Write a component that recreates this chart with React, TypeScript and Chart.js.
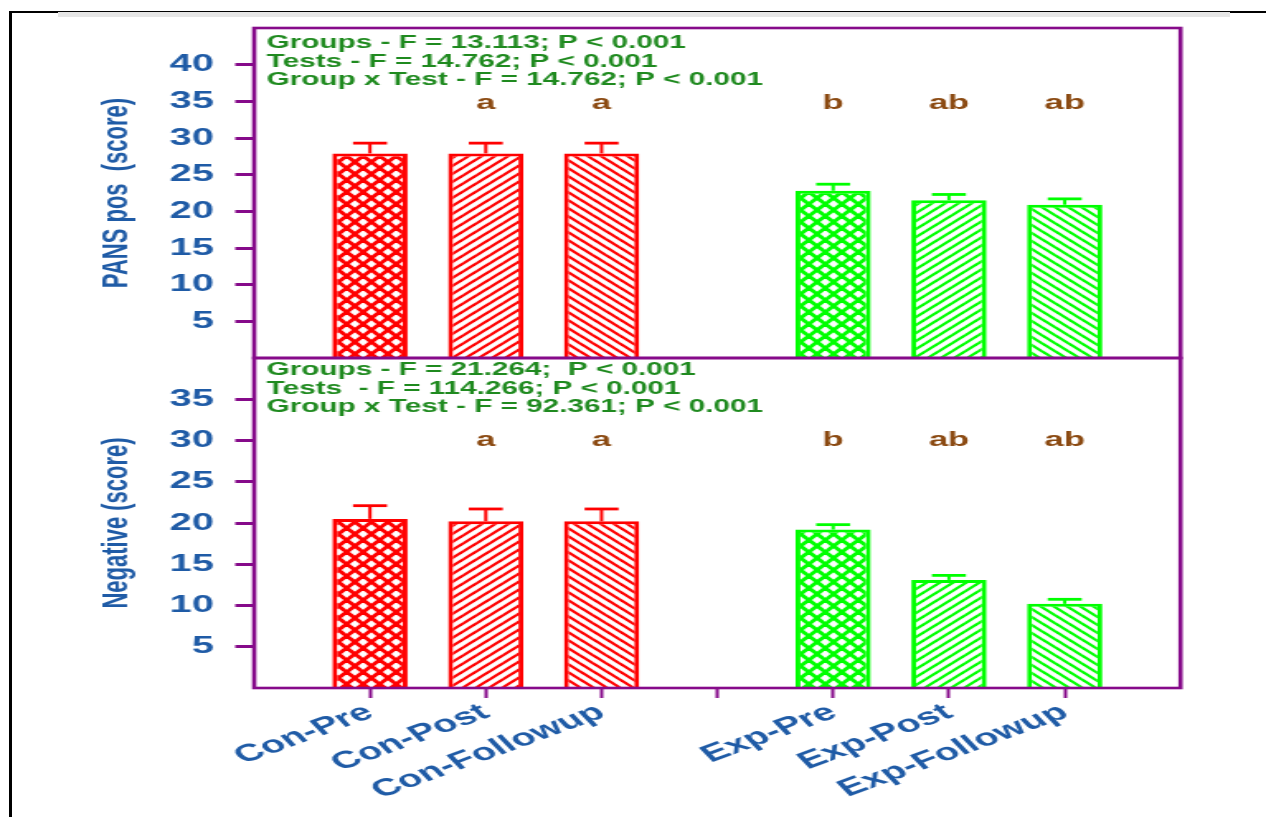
import React, { useEffect, useRef } from 'react';
import { Chart, registerables } from 'chart.js';

Chart.register(...registerables);

// ---------- data ----------
const categories = ['', 'Con-Pre', 'Con-Post', 'Con-Followup', '', 'Exp-Pre', 'Exp-Post', 'Exp-Followup', ''];
const groupOf = ['', 'con', 'con', 'con', '', 'exp', 'exp', 'exp', ''];
const hatchOf = ['', 'cross', 'fwd', 'back', '', 'cross', 'fwd', 'back', ''];

const pansPos = [null, 27.9, 27.9, 27.9, null, 22.8, 21.5, 20.9, null];
const pansPosErr = [null, 1.4, 1.4, 1.4, null, 0.9, 0.8, 0.8, null];
const negative = [null, 20.5, 20.2, 20.2, null, 19.2, 13.1, 10.2, null];
const negativeErr = [null, 1.6, 1.5, 1.5, null, 0.6, 0.55, 0.55, null];

const pansPosLetters = ['', '', 'a', 'a', '', 'b', 'ab', 'ab', ''];
const negativeLetters = ['', '', 'a', 'a', '', 'b', 'ab', 'ab', ''];
const pansPosLetterLevel = 34.7;
const negativeLetterLevel = 30;

const pansPosStats = [
  'Groups - F = 13.113; P < 0.001',
  'Tests - F = 14.762; P < 0.001',
  'Group x Test - F = 14.762; P < 0.001',
];
const negativeStats = [
  'Groups - F = 21.264;  P < 0.001',
  'Tests  - F = 114.266; P < 0.001',
  'Group x Test - F = 92.361; P < 0.001',
];

const pansPosMax = 45;
const negativeMax = 40;
const tickStep = 5;

// ---------- style ----------
const W = 1266;
const H = 817;
const STRETCH = 1.65;
const CW = Math.round(W / STRETCH);

const BLUE = '#1f5ba6';
const PURPLE = '#860a8a';
const GREEN_TEXT = '#1f8a1f';
const BROWN = '#8b4a12';
const RED = '#ff0000';
const LIME = '#00ff00';
const FONT = '"Liberation Sans", Arial, sans-serif';

function makePattern(color: string, kind: string) {
  const c = document.createElement('canvas');
  const w = kind === 'cross' ? 10 : 8;
  const h = kind === 'cross' ? 12 : 8;
  c.width = w;
  c.height = h;
  const g = c.getContext('2d')!;
  g.fillStyle = '#ffffff';
  g.fillRect(0, 0, w, h);
  g.strokeStyle = color;
  g.lineWidth = kind === 'cross' ? 3 : 2.2;
  const line = (x1: number, y1: number, x2: number, y2: number) => {
    for (const dx of [-w, 0, w]) {
      g.beginPath();
      g.moveTo(x1 + dx, y1);
      g.lineTo(x2 + dx, y2);
      g.stroke();
    }
  };
  if (kind === 'fwd' || kind === 'cross') line(-w, 2 * h, 2 * w, -h);
  if (kind === 'back' || kind === 'cross') line(-w, -h, 2 * w, 2 * h);
  return g.createPattern(c, 'repeat');
}

const overlayPlugin = {
  id: 'overlay',
  afterDraw(chart: any) {
    const ctx = chart.ctx;
    const { left, right } = chart.chartArea;
    const xs = chart.scales.x;
    const panels = [
      { scale: chart.scales.yPos, values: pansPos, errs: pansPosErr, letters: pansPosLetters, level: pansPosLetterLevel, stats: pansPosStats, first: 15 },
      { scale: chart.scales.yNeg, values: negative, errs: negativeErr, letters: negativeLetters, level: negativeLetterLevel, stats: negativeStats, first: 12 },
    ];
    ctx.save();
    for (const p of panels) {
      // error bars
      p.values.forEach((v: any, i: number) => {
        if (v == null || p.errs[i] == null) return;
        const color = groupOf[i] === 'con' ? RED : LIME;
        const x = xs.getPixelForValue(i);
        const y0 = p.scale.getPixelForValue(v);
        const y1 = p.scale.getPixelForValue(v + p.errs[i]);
        ctx.strokeStyle = color;
        ctx.lineWidth = 2;
        ctx.beginPath();
        ctx.moveTo(x, y0);
        ctx.lineTo(x, y1);
        ctx.stroke();
        ctx.lineWidth = 2.8;
        ctx.beginPath();
        ctx.moveTo(x - 10.3, y1);
        ctx.lineTo(x + 10.3, y1);
        ctx.stroke();
      });
      // letters
      ctx.fillStyle = BROWN;
      ctx.font = `bold 21px ${FONT}`;
      ctx.textAlign = 'center';
      ctx.textBaseline = 'middle';
      p.letters.forEach((t: string, i: number) => {
        if (!t) return;
        ctx.fillText(t, xs.getPixelForValue(i), p.scale.getPixelForValue(p.level));
      });
      // stats
      ctx.fillStyle = GREEN_TEXT;
      ctx.font = `bold 18px ${FONT}`;
      ctx.textAlign = 'left';
      p.stats.forEach((t: string, k: number) => {
        ctx.fillText(t, left + 7.5, p.scale.top + p.first + k * 18.7);
      });
      // frame
      ctx.strokeStyle = PURPLE;
      ctx.lineWidth = 2.6;
      ctx.strokeRect(left, p.scale.top, right - left, p.scale.bottom - p.scale.top);
    }
    ctx.restore();
  },
};

function yAxis(max: number, title: string) {
  return {
    type: 'linear',
    position: 'left',
    stack: 'panels',
    stackWeight: 1,
    min: 0,
    max,
    ticks: {
      stepSize: tickStep,
      autoSkip: false,
      color: BLUE,
      padding: 13,
      font: { family: FONT, size: 24, weight: 'bold' },
    },
    grid: {
      drawOnChartArea: false,
      drawTicks: true,
      tickLength: 11.5,
      tickWidth: 3,
      color: PURPLE,
    },
    border: { display: false },
    title: {
      display: true,
      text: title,
      color: BLUE,
      font: { family: FONT, size: 22, weight: 'bold' },
      padding: { top: 58, bottom: 0 },
    },
    afterBuildTicks: (s: any) => {
      s.ticks = s.ticks.filter((t: any) => t.value > 0 && t.value < max);
    },
    afterFit: (s: any) => {
      s.width = 154;
    },
  };
}

export default function App() {
  const ref = useRef<HTMLCanvasElement>(null);

  useEffect(() => {
    if (!ref.current) return;
    const bg = (i: number) => {
      if (!hatchOf[i]) return 'rgba(0,0,0,0)';
      return makePattern(groupOf[i] === 'con' ? RED : LIME, hatchOf[i]);
    };
    const bgs = categories.map((_, i) => bg(i));
    const borders = categories.map((_, i) => (groupOf[i] === 'con' ? RED : groupOf[i] === 'exp' ? LIME : 'rgba(0,0,0,0)'));

    const chart = new Chart(ref.current, {
      type: 'bar',
      data: {
        labels: categories,
        datasets: [
          {
            label: 'PANS pos',
            data: pansPos,
            yAxisID: 'yPos',
            grouped: false,
            backgroundColor: bgs,
            borderColor: borders,
            borderWidth: 3,
            categoryPercentage: 1,
            barPercentage: 0.65,
          },
          {
            label: 'Negative',
            data: negative,
            yAxisID: 'yNeg',
            grouped: false,
            backgroundColor: bgs,
            borderColor: borders,
            borderWidth: 3,
            categoryPercentage: 1,
            barPercentage: 0.65,
          },
        ],
      } as any,
      options: {
        animation: false,
        responsive: false,
        devicePixelRatio: 1,
        layout: { padding: { left: 0, top: 28, right: CW - 715.2, bottom: 0 } },
        plugins: {
          legend: { display: false },
          tooltip: { enabled: false },
        },
        scales: {
          x: {
            type: 'category',
            offset: false,
            grid: {
              offset: false,
              drawOnChartArea: false,
              drawTicks: true,
              tickLength: 10,
              tickWidth: 2,
              color: (c: any) => (c.index === 0 || c.index === categories.length - 1 ? 'rgba(0,0,0,0)' : PURPLE),
            },
            border: { display: false },
            ticks: {
              autoSkip: false,
              maxRotation: 31,
              minRotation: 31,
              color: BLUE,
              padding: 0,
              font: { family: FONT, size: 24, weight: 'bold' },
            },
            afterFit: (s: any) => {
              s.height = H - 688;
            },
          },
          yNeg: yAxis(negativeMax, 'Negative (score)'),
          yPos: yAxis(pansPosMax, 'PANS pos  (score)'),
        } as any,
      } as any,
      plugins: [overlayPlugin],
    });
    return () => chart.destroy();
  }, []);

  return (
    <div style={{ position: 'absolute', left: 0, top: 0, width: W, height: H, overflow: 'hidden', background: '#fff' }}>
      <canvas
        ref={ref}
        width={CW}
        height={H}
        style={{ position: 'absolute', left: 0, top: 0, width: W + 'px', height: H + 'px' }}
      />
      <div style={{ position: 'absolute', left: 9, top: 11, width: W - 9, height: 2, background: '#000' }} />
      <div style={{ position: 'absolute', left: 58, top: 12, width: 1172, height: 5, background: '#e6e6e6' }} />
      <div style={{ position: 'absolute', left: 9, top: 11, width: 2.5, height: H - 11, background: '#000' }} />
    </div>
  );
}
